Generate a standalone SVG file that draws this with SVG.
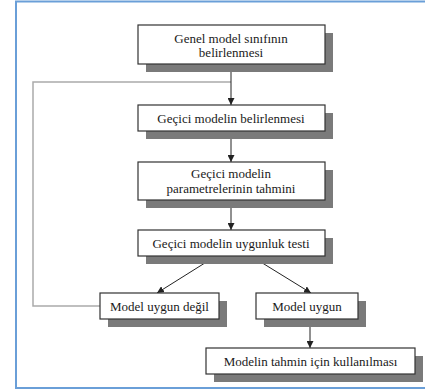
<svg xmlns="http://www.w3.org/2000/svg" width="425" height="392" viewBox="0 0 425 392">
<style>
.box{fill:#fff;stroke:#333;stroke-width:1.2}
.sh{fill:#7a7a7a}
.t{font-family:"Liberation Serif","Times New Roman",serif;font-size:13px;fill:#1a1a1a;text-anchor:middle}
.c{stroke:#222;stroke-width:1;fill:none}
.fb{stroke:#aaa;stroke-width:1.5;fill:none}
</style>
<defs>
<marker id="ah" viewBox="0 0 10 10" refX="10" refY="5" markerWidth="7" markerHeight="7" orient="auto" markerUnits="userSpaceOnUse">
<path d="M0,0 L10,5 L0,10 z" fill="#222"/>
</marker>
</defs>
<rect x="0" y="0" width="425" height="392" fill="#fff"/>
<rect x="16" y="1.5" width="440" height="386.5" fill="#fff" stroke="#6a9fd8" stroke-width="2"/>
<g id="connectors">
<polyline class="fb" points="100,306 33,306 33,82 231,82"/>
<line class="c" x1="231" y1="64" x2="231" y2="105" marker-end="url(#ah)"/>
<line class="c" x1="231" y1="131" x2="231" y2="162" marker-end="url(#ah)"/>
<line class="c" x1="231" y1="200" x2="231" y2="230" marker-end="url(#ah)"/>
<line class="c" x1="216" y1="256" x2="157" y2="293" marker-end="url(#ah)"/>
<line class="c" x1="251" y1="256" x2="311" y2="293" marker-end="url(#ah)"/>
<line class="c" x1="310" y1="319" x2="310" y2="348" marker-end="url(#ah)"/>
</g>
<g id="n1">
<rect class="sh" x="146" y="33" width="187" height="39"/>
<rect class="box" x="138" y="25" width="187" height="39"/>
<text class="t" x="231" y="43">Genel model sınıfının</text>
<text class="t" x="231" y="57">belirlenmesi</text>
</g>
<g id="n2">
<rect class="sh" x="146" y="113" width="187" height="26"/>
<rect class="box" x="138" y="105" width="187" height="26"/>
<text class="t" x="231" y="122.5">Geçici modelin belirlenmesi</text>
</g>
<g id="n3">
<rect class="sh" x="146" y="170" width="187" height="38"/>
<rect class="box" x="138" y="162" width="187" height="38"/>
<text class="t" x="231" y="178">Geçici modelin</text>
<text class="t" x="231" y="193">parametrelerinin tahmini</text>
</g>
<g id="n4">
<rect class="sh" x="146" y="238" width="187" height="26"/>
<rect class="box" x="138" y="230" width="187" height="26"/>
<text class="t" x="231" y="247.5">Geçici modelin uygunluk testi</text>
</g>
<g id="n5">
<rect class="sh" x="108" y="301" width="119" height="26"/>
<rect class="box" x="100" y="293" width="119" height="26"/>
<text class="t" x="159.5" y="310.5">Model uygun değil</text>
</g>
<g id="n6">
<rect class="sh" x="264" y="301" width="102" height="26"/>
<rect class="box" x="256" y="293" width="102" height="26"/>
<text class="t" x="307" y="310.5">Model uygun</text>
</g>
<g id="n7">
<rect class="sh" x="214" y="356" width="209" height="26"/>
<rect class="box" x="206" y="348" width="209" height="26"/>
<text class="t" x="310.5" y="365.5">Modelin tahmin için kullanılması</text>
</g>
</svg>
